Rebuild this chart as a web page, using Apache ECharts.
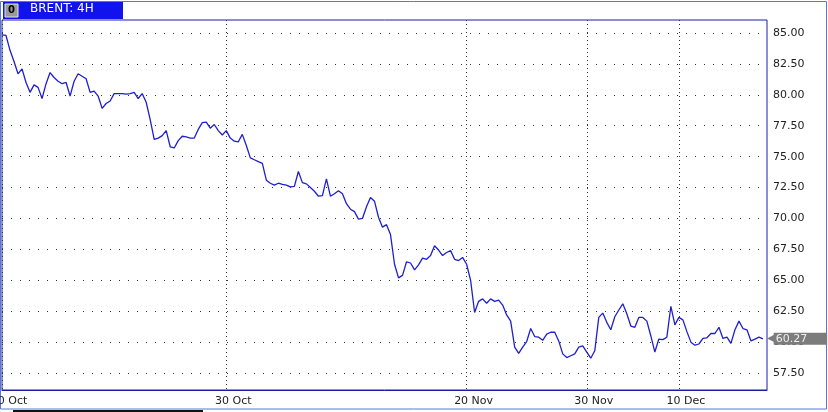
<!DOCTYPE html>
<html>
<head>
<meta charset="utf-8">
<script src="https://cdn.jsdelivr.net/npm/echarts@6/dist/echarts.min.js"></script>
<style>
  html, body { margin: 0; padding: 0; background: #fff; }
  #chart { width: 828px; height: 412px; }
</style>
</head>
<body>
<div id="chart"></div>
<script>
// BRENT 4H close, one value per slot (about a quarter trading day each)
const prices = [
  84.85, 84.8, 83.6, 82.7, 81.7, 82.1, 81.0, 80.2, 80.8, 80.6,
  79.7, 80.9, 81.8, 81.4, 81.1, 80.9, 81.0, 79.9, 81.1, 81.7,
  81.5, 81.3, 80.2, 80.3, 79.9, 78.9, 79.3, 79.5, 80.1, 80.1,
  80.1, 80.05, 80.1, 80.2, 79.7, 80.1, 79.4, 78.0, 76.4, 76.5,
  76.7, 77.1, 75.8, 75.7, 76.3, 76.65, 76.6, 76.5, 76.5, 77.2,
  77.75, 77.8, 77.3, 77.6, 77.1, 76.75, 77.1, 76.5, 76.25, 76.2,
  76.8, 75.9, 74.9, 74.75, 74.6, 74.45, 73.1, 72.85, 72.7, 72.85,
  72.75, 72.7, 72.55, 72.6, 73.8, 72.9, 72.8, 72.5, 72.2, 71.8,
  71.85, 73.2, 71.8, 72.0, 72.25, 72.0, 71.2, 70.75, 70.55, 69.95,
  70.0, 70.95, 71.7, 71.4, 70.1, 69.3, 69.5, 68.7, 66.3, 65.2,
  65.4, 66.5, 66.4, 65.85, 66.25, 66.8, 66.7, 67.0, 67.8, 67.45,
  67.0, 67.25, 67.4, 66.7, 66.6, 66.85, 66.3, 65.0, 62.4, 63.3,
  63.5, 63.15, 63.5, 63.3, 63.4, 63.0, 62.2, 61.7, 59.6, 59.1,
  59.6, 60.05, 61.1, 60.45, 60.4, 60.15, 60.65, 60.8, 60.8, 60.1,
  59.05, 58.75, 58.9, 59.05, 59.6, 59.7, 59.2, 58.7, 59.3, 62.0,
  62.35, 61.6, 61.0, 62.05, 62.6, 63.1, 62.3, 61.3, 61.2, 62.0,
  62.0, 61.7, 60.5, 59.2, 60.25, 60.2, 60.4, 62.9, 61.4, 62.0,
  61.8, 60.85, 60.0, 59.75, 59.85, 60.3, 60.35, 60.7, 60.7, 61.2,
  60.3, 60.4, 59.9, 61.0, 61.7, 61.1, 61.0, 60.1, 60.25, 60.4,
  60.27
];
const slotCount = 192;           // axis runs a little past the last bar
const tickIdx = [0, 56, 116, 146, 169];
const tickLabels = ['10 Oct', '30 Oct', '20 Nov', '30 Nov', '10 Dec'];
const yTicks = [57.5, 60, 62.5, 65, 67.5, 70, 72.5, 75, 77.5, 80, 82.5, 85];
const lastPrice = 60.27;

let slots = [];
for (let i = 0; i < slotCount; i++) slots.push(String(i));

function isTick(index) {
    return tickIdx.indexOf(index) >= 0;
}

let myChart = echarts.init(document.getElementById('chart'));
let option = {
    animation: false,
    backgroundColor: '#fff',
    grid: {
        left: 2,
        right: 61,
        top: 20,
        bottom: 22,
        outerBoundsMode: 'none',
        containLabel: false,
        show: true,
        borderColor: '#1c1ca8',
        borderWidth: 1,
        backgroundColor: '#fff'
    },
    xAxis: {
        type: 'category',
        data: slots,
        boundaryGap: false,
        axisLine: { show: true, lineStyle: { color: '#1c1ca8', width: 1 } },
        axisTick: { show: false },
        axisLabel: {
            interval: function (index) { return isTick(index); },
            formatter: function (val, index) {
                let k = tickIdx.indexOf(index);
                return k >= 0 ? '{t|' + tickLabels[k] + '}' : '';
            },
            margin: 6,
            hideOverlap: false,
            rich: {
                t: {
                    fontFamily: 'DejaVu Sans',
                    fontSize: 11,
                    color: '#222',
                    padding: [0, 0, 0, 14]
                }
            }
        },
        splitLine: {
            show: true,
            interval: function (index) { return isTick(index); },
            lineStyle: { color: '#333', type: [1, 3], width: 1 }
        }
    },
    yAxis: {
        type: 'value',
        position: 'right',
        min: 56.13,
        max: 86.05,
        axisLine: { show: false },
        axisTick: { show: false, customValues: yTicks },
        axisLabel: {
            customValues: yTicks,
            formatter: function (v) { return v.toFixed(2); },
            fontFamily: 'DejaVu Sans',
            fontSize: 11,
            color: '#222',
            margin: 6
        },
        splitLine: {
            show: true,
            lineStyle: { color: '#333', type: [1, 8], width: 1 }
        }
    },
    series: [{
        type: 'line',
        data: prices,
        symbol: 'none',
        lineStyle: { color: '#1f1fcc', width: 1.3 },
        markLine: {
            silent: true,
            symbol: 'none',
            lineStyle: { color: 'rgba(0,0,0,0)', width: 0 },
            data: [{ yAxis: lastPrice }],
            label: {
                show: true,
                position: 'end',
                distance: 0,
                formatter: '{a|◀}{b|' + lastPrice.toFixed(2) + '}',
                rich: {
                    a: {
                        color: '#7c7c7c',
                        fontSize: 10,
                        fontFamily: 'DejaVu Sans',
                        padding: [0, -1, 0, 0]
                    },
                    b: {
                        backgroundColor: '#7c7c7c',
                        color: '#eeeeee',
                        fontFamily: 'DejaVu Sans',
                        fontSize: 11,
                        lineHeight: 15,
                        padding: [1, 20, 0, 2]
                    }
                }
            }
        }
    }],
    graphic: [
        // outer frame
        { type: 'rect', shape: { x: 0.5, y: 1.5, width: 826, height: 407.5 },
          style: { fill: 'none', stroke: '#5577d8', lineWidth: 1 }, z: 0 },
        // title tab
        { type: 'rect', shape: { x: 3, y: 2, width: 120, height: 17 },
          style: { fill: '#1212ee' }, z: 10 },
        { type: 'rect', shape: { x: 5, y: 4, width: 13, height: 13 },
          style: { fill: '#9a9a9a', stroke: '#e0e0e0', lineWidth: 1 }, z: 11 },
        { type: 'text', x: 8, y: 5,
          style: { text: '0', fill: '#000', font: 'bold 10px DejaVu Sans' }, z: 12 },
        { type: 'text', x: 30, y: 3,
          style: { text: 'BRENT: 4H', fill: '#fff', font: '12px DejaVu Sans' }, z: 12 },
        // scrollbar stub
        { type: 'rect', shape: { x: 13, y: 410, width: 190, height: 2 },
          style: { fill: '#111' }, z: 10 }
    ]
};
myChart.setOption(option);
</script>
</body>
</html>
